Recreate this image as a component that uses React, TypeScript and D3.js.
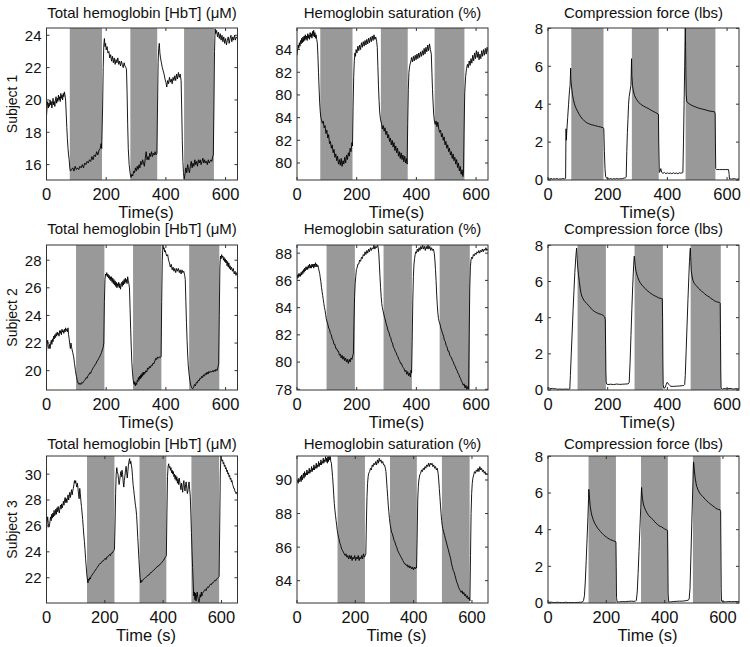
import React from "react";
import * as d3 from "d3";

// ---------- data ----------
const TITLES = ["Total hemoglobin [HbT] (\u03bcM)", "Hemoglobin saturation (%)", "Compression force (lbs)"];
const SUBJECTS = ["Subject 1", "Subject 2", "Subject 3"];
const XLABELS = ["Time(s)", "Time(s)", "Time (s)"];
const X_TICKS = [0, 200, 400, 600];
const X_MAX = [640, 640, 655];

const BANDS_S1 = [[78, 186], [281, 371], [461, 561]];
const BANDS_S2 = [[99, 194], [290, 385], [478, 579]];
const BANDS_S3 = [[139, 233], [319, 411], [497, 592]];

const HBT_TICKS_S1 = [16, 18, 20, 22, 24];
const SO2_TICKS_S1 = [80, 82, 84, 86, 88, 90];
const SO2_LABELS_S1 = ["80", "82", "84", "80", "82", "84"];
const HBT_TICKS_S2 = [20, 22, 24, 26, 28];
const SO2_TICKS_S2 = [78, 80, 82, 84, 86, 88];
const HBT_TICKS_S3 = [22, 24, 26, 28, 30];
const SO2_TICKS_S3 = [84, 86, 88, 90];
const FORCE_TICKS = [0, 2, 4, 6, 8];

const s1HbT = [[0,19.0],[2,19.6],[4,19.9],[6,19.5],[8,19.8],[10,19.6],[12,20.0],[14,19.7],[16,19.9],[18,19.5],[20,19.8],[22,20.1],[24,19.7],[26,19.9],[28,19.6],[30,20.0],[32,20.2],[34,19.8],[36,20.1],[38,19.9],[40,20.3],[42,20.0],[44,20.2],[46,19.9],[48,20.4],[50,20.1],[52,20.3],[54,20.0],[56,20.4],[58,20.2],[60,20.5],[62,20.3],[64,20.0],
[66,19.2],[68,18.3],[70,17.6],[72,17.0],[74,16.6],[76,16.3],[78,15.8],[80,15.6],
[84,15.7],[88,15.8],[92,15.6],[96,15.9],[100,15.7],[104,15.8],[108,15.7],[112,15.9],[116,15.8],[120,16.0],[124,15.8],[128,16.1],[132,16.0],[136,16.2],[140,16.1],[144,16.3],[148,16.2],[152,16.5],[156,16.3],[160,16.6],[164,16.5],[168,16.8],[172,16.6],[176,16.9],[180,17.0],[183,17.3],[185,17.0],
[188,19.5],[190,22.0],[192,23.4],[194,23.8],[196,23.3],[198,23.5],[200,23.1],[203,23.3],[206,22.9],[209,23.0],[212,22.6],[215,22.8],[218,22.4],[221,22.7],[224,22.3],[227,22.6],[230,22.2],[233,22.5],[236,22.3],[239,22.6],[242,22.2],[245,22.4],[248,22.1],[251,22.4],[254,22.2],[257,22.0],[260,22.3],[263,22.1],[266,22.0],[268,21.9],
[270,20.5],[272,18.5],[274,17.0],[277,16.0],[280,15.5],[283,15.2],
[286,15.4],[289,15.3],[292,15.6],[295,15.5],[298,15.8],[301,15.6],[304,15.9],[307,15.7],[310,16.0],[313,15.8],[316,16.2],[319,16.0],[322,16.3],[325,16.1],[328,15.9],[331,16.4],[334,16.8],[337,16.3],[340,16.5],[343,16.3],[346,16.7],[349,16.5],[352,16.8],[355,16.5],[358,16.7],[361,16.6],[364,16.8],[367,16.6],[370,16.7],
[372,19.5],[374,22.3],[376,23.2],[378,23.5],[380,22.9],[382,22.6],[385,22.3],[388,22.0],[391,21.8],[394,21.6],[397,21.3],[400,21.1],[403,20.8],[406,21.2],[409,21.0],[412,21.4],[415,21.1],[418,21.3],[421,21.0],[424,21.4],[427,21.2],[430,21.5],[433,21.2],[436,21.6],[439,21.3],[442,21.7],[445,21.4],[448,21.6],[451,21.2],
[453,19.5],[455,17.5],[457,16.2],[459,15.5],[461,15.1],
[464,15.4],[467,15.8],[470,15.5],[473,16.0],[476,15.7],[479,15.5],[482,15.9],[485,16.2],[488,15.8],[491,16.1],[494,15.9],[497,16.3],[500,16.0],[503,16.2],[506,15.9],[509,16.3],[512,16.1],[515,16.3],[518,16.0],[521,16.2],[524,16.4],[527,16.1],[530,16.3],[533,16.1],[536,16.2],[539,16.0],[542,16.3],[545,16.1],[548,16.2],[551,16.3],[554,16.2],[557,16.5],[559,16.6],
[561,19.5],[563,23.0],[565,24.4],[567,24.1],[570,24.3],[573,23.9],[576,24.2],[579,23.8],[582,24.1],[585,23.7],[588,24.0],[591,23.6],[594,23.9],[597,23.5],[600,23.8],[603,23.4],[606,23.7],[609,23.9],[612,23.5],[615,23.8],[618,24.0],[621,23.6],[624,23.9],[627,23.7],[630,24.0],[633,23.7],[636,23.9],[640,23.8]];

const s1SO2 = [[0,89.5],[2,90.0],[4,90.4],[6,90.1],[8,90.6],[10,90.3],[12,90.8],[14,90.5],[16,91.0],[18,90.6],[20,91.1],[22,90.7],[24,91.2],[26,90.8],[28,91.3],[30,90.9],[32,91.2],[34,90.8],[36,91.4],[38,91.0],[40,91.3],[42,90.9],[44,91.5],[46,91.1],[48,91.4],[50,91.0],[52,91.6],[54,91.2],[56,91.7],[58,91.1],[60,91.5],[62,91.0],[64,91.3],[66,90.9],[68,90.6],
[70,89.5],[72,88.0],[74,86.6],[76,85.3],[78,84.5],[80,84.0],[82,83.8],
[85,83.5],[88,83.7],[91,83.1],[94,83.3],[97,82.6],[100,82.9],[103,82.2],[106,82.5],[109,81.7],[112,81.9],[115,81.3],[118,81.6],[121,80.9],[124,81.2],[127,80.5],[130,80.8],[133,80.2],[136,80.6],[139,79.9],[142,80.3],[145,79.8],[148,80.4],[151,79.7],[154,80.2],[157,79.9],[160,80.5],[163,80.0],[166,80.7],[169,80.3],[172,80.9],[175,80.6],[178,81.3],[181,81.0],[184,81.8],[186,81.5],
[188,85.0],[190,87.6],[192,89.0],[194,89.7],[196,89.4],[198,90.0],[201,89.7],[204,90.3],[207,89.9],[210,90.4],[213,90.0],[216,90.6],[219,90.2],[222,90.7],[225,90.3],[228,90.8],[231,90.4],[234,90.9],[237,90.5],[240,91.0],[243,90.6],[246,91.1],[249,90.7],[252,91.2],[255,90.8],[258,91.3],[261,90.9],[264,91.1],[267,90.7],[269,90.2],
[271,88.5],[273,86.8],[275,85.5],[277,84.5],[280,83.8],[283,83.5],
[286,83.0],[289,83.3],[292,82.8],[295,83.1],[298,82.5],[301,82.8],[304,82.2],[307,82.5],[310,81.9],[313,82.2],[316,81.6],[319,82.0],[322,81.4],[325,81.8],[328,81.1],[331,81.5],[334,80.9],[337,81.3],[340,80.6],[343,81.0],[346,80.4],[349,80.9],[352,80.3],[355,80.7],[358,80.1],[361,80.6],[364,80.0],[367,80.4],[369,79.9],
[371,83.5],[373,86.5],[375,88.0],[378,88.6],[381,88.9],[384,89.3],[387,88.9],[390,89.4],[393,89.0],[396,89.5],[399,89.1],[402,89.6],[405,89.2],[408,89.7],[411,89.3],[414,89.8],[417,89.4],[420,89.9],[423,89.5],[426,90.1],[429,89.6],[432,90.2],[435,89.8],[438,90.4],[441,89.9],[444,90.5],[447,90.0],[450,89.6],
[452,88.0],[454,86.5],[456,85.3],[458,84.3],[460,83.8],[463,83.4],[466,83.7],[469,83.2],[472,83.6],[475,83.0],
[478,82.7],[481,82.9],[484,82.3],[487,82.6],[490,82.0],[493,82.3],[496,81.6],[499,81.9],[502,81.3],[505,81.6],[508,81.0],[511,81.3],[514,80.7],[517,81.0],[520,80.4],[523,80.8],[526,80.2],[529,80.5],[532,79.9],[535,80.3],[538,79.6],[541,80.0],[544,79.3],[547,79.7],[550,79.0],[553,79.4],[556,78.8],[558,79.2],
[560,83.0],[562,86.2],[565,87.6],[568,88.3],[571,88.7],[574,88.4],[577,89.0],[580,88.6],[583,89.2],[586,88.8],[589,89.5],[592,89.0],[595,89.7],[598,89.2],[601,89.9],[604,89.3],[607,89.8],[610,89.1],[613,89.6],[616,89.2],[619,89.9],[622,89.4],[625,90.0],[628,89.5],[631,90.1],[634,89.6],[637,90.2],[640,89.8]];

const s1Force = [[0,0.1],[5,0.05],[10,0.08],[15,0.04],[20,0.07],[25,0.05],[30,0.08],[35,0.04],[40,0.06],[45,0.05],[50,0.08],[55,0.05],[58,0.07],[59,0.1],[60,2.0],[60.5,2.7],[61.5,2.1],[63,2.6],[66,3.3],[69,4.0],[72,4.7],[74,5.0],[76,5.9],[77,5.3],[79,4.9],[82,4.5],[85,4.25],[88,4.05],[91,3.9],[95,3.75],[100,3.6],[105,3.45],[110,3.33],[115,3.22],[120,3.15],[125,3.08],[130,3.02],[135,2.98],[140,2.95],[145,2.92],[150,2.9],[155,2.88],[160,2.86],[165,2.84],[170,2.82],[175,2.8],[180,2.78],[185,2.76],[187,2.7],[189,1.5],[191,0.6],[193,0.2],[196,0.1],[200,0.08],[205,0.05],[210,0.08],[215,0.04],[220,0.07],[225,0.05],[230,0.08],[235,0.05],[240,0.07],[245,0.06],[250,0.08],[255,0.1],[260,0.12],[262,0.15],[264,1.5],[266,2.5],[268,3.2],[270,4.0],[272,4.4],[275,4.7],[278,5.0],[280,6.4],[281,5.5],[283,5.0],[286,4.7],[290,4.45],[295,4.3],[300,4.18],[305,4.08],[310,4.0],[315,3.95],[320,3.9],[325,3.86],[330,3.82],[335,3.78],[340,3.73],[345,3.69],[350,3.64],[355,3.6],[360,3.56],[365,3.52],[370,3.47],[371,2.0],[373,0.4],[375,0.45],[378,0.6],[381,0.4],[385,0.35],[390,0.4],[395,0.33],[400,0.38],[405,0.34],[410,0.37],[415,0.33],[420,0.38],[425,0.34],[430,0.37],[435,0.33],[440,0.38],[445,0.36],[450,0.38],[452,0.4],[454,2.0],[456,4.0],[458,6.0],[460,8.2],[461,7.0],[462,5.5],[463,4.5],[465,4.15],[470,4.05],[475,4.0],[480,3.95],[490,3.88],[500,3.82],[510,3.77],[520,3.73],[530,3.69],[540,3.64],[550,3.62],[558,3.6],[560,3.5],[561,2.0],[562,0.6],[565,0.55],[575,0.55],[585,0.55],[595,0.55],[605,0.55],[607,0.3],[608,0.06],[615,0.05],[625,0.07],[632,0.04],[640,0.06]];

const s2HbT = [[0,21.4],[2,21.9],[4,22.2],[6,21.7],[8,21.6],[10,21.9],[12,21.6],[14,22.0],[16,22.2],[18,21.9],[20,22.3],[22,22.1],[24,22.5],[26,22.3],[28,22.6],[30,22.4],[32,22.7],[34,22.5],[36,22.8],[38,22.6],[40,22.7],[42,22.5],[44,22.9],[46,22.7],[48,22.9],[50,22.6],[52,23.0],[54,22.8],[56,22.9],[58,22.7],[60,23.0],[62,22.8],[64,23.1],[66,22.9],[68,23.0],[70,22.8],[72,23.1],[74,22.6],[76,22.3],[78,21.9],[80,21.6],[82,22.0],[84,21.7],[86,21.5],[88,21.3],
[91,21.0],[94,20.5],[97,20.0],[100,19.6],[103,19.3],[106,19.1],[109,19.0],[112,19.1],[115,19.0],[118,19.15],[121,19.1],[124,19.2],[127,19.3],[130,19.35],[133,19.5],[136,19.45],[139,19.65],[142,19.7],[145,19.85],[148,19.8],[151,20.0],[154,20.1],[157,20.25],[160,20.3],[163,20.45],[166,20.5],[169,20.7],[172,20.75],[175,20.9],[178,21.0],[181,21.15],[184,21.3],[187,21.5],[190,21.7],[192,22.0],
[194,25.0],[196,26.6],[198,27.0],[200,26.9],[202,27.1],[204,26.8],[206,27.0],[208,26.7],[210,26.9],[212,26.6],[214,26.8],[216,26.5],[218,26.8],[220,26.4],[222,26.7],[224,26.3],[226,26.6],[228,26.2],[230,26.5],[232,26.1],[234,26.4],[236,26.0],[238,26.3],[240,26.1],[242,26.4],[244,26.0],[246,26.3],[248,25.9],[250,26.2],[252,26.4],[254,26.1],[256,26.5],[258,26.2],[260,26.6],[262,26.3],[264,26.7],[266,26.4],[268,26.6],[270,26.3],[272,26.8],[274,26.5],[276,26.3],[278,26.0],
[280,24.5],[282,23.0],[284,21.7],[286,20.6],[288,19.9],[290,19.4],[292,19.1],[294,19.0],[296,19.2],[298,18.9],[300,19.1],[302,19.0],[304,19.3],[306,19.2],[308,19.5],[310,19.3],[312,19.6],[314,19.4],[316,19.7],[318,19.5],[320,19.8],[322,19.6],[324,19.9],[326,19.7],[328,19.9],[330,19.8],[333,20.0],[336,19.9],[339,20.2],[342,20.1],[345,20.3],[348,20.2],[351,20.4],[354,20.35],[357,20.55],[360,20.5],[363,20.7],[366,20.9],[369,20.8],[372,21.0],[375,20.9],[378,21.0],[381,20.95],[384,21.0],
[386,25.0],[388,28.0],[390,29.1],[392,28.8],[394,28.9],[396,28.6],[398,28.7],[400,28.5],[403,28.3],[406,28.4],[409,28.0],[412,27.8],[415,27.5],[418,27.7],[421,27.3],[424,27.5],[427,27.2],[430,27.4],[433,27.1],[436,27.4],[439,27.2],[442,27.4],[445,27.1],[448,27.3],[451,27.0],[454,27.3],[457,27.1],[460,27.2],[463,26.9],[465,26.6],
[467,25.0],[469,23.5],[471,22.2],[473,21.2],[475,20.4],[478,19.7],[481,19.2],[484,18.9],[487,18.75],[490,18.7],[493,18.8],[496,19.0],[499,18.9],[502,19.15],[505,19.1],[508,19.3],[511,19.25],[514,19.45],[517,19.4],[520,19.6],[523,19.5],[526,19.7],[529,19.6],[532,19.8],[535,19.7],[538,19.9],[541,19.75],[544,19.95],[547,19.85],[550,19.95],[553,19.9],[556,20.0],[559,19.9],[562,20.05],[565,19.95],[568,20.1],[571,20.0],[574,20.2],[577,20.5],
[579,24.0],[581,27.5],[583,28.3],[585,28.1],[587,28.4],[589,28.2],[591,28.3],[593,28.0],[595,28.2],[597,27.9],[599,28.1],[601,27.8],[603,28.0],[605,27.6],[607,27.9],[609,27.5],[611,27.8],[613,27.4],[615,27.6],[617,27.3],[620,27.5],[623,27.2],[626,27.4],[629,27.0],[632,27.2],[635,26.9],[638,27.1],[640,27.0]];

const s2SO2 = [[0,86.1],[2,86.4],[4,86.2],[6,86.5],[8,86.3],[10,86.5],[12,86.3],[14,86.6],[16,86.4],[18,86.7],[20,86.5],[22,86.8],[24,86.6],[26,86.9],[28,86.7],[30,87.0],[32,86.8],[34,87.0],[36,86.8],[38,87.1],[40,86.9],[42,87.2],[44,86.9],[46,87.1],[48,86.9],[50,87.2],[52,87.0],[54,87.2],[56,86.9],[58,87.2],[60,87.0],[62,87.3],[64,87.0],[66,87.2],[68,87.0],[70,87.1],[72,86.9],[74,86.7],[76,86.5],[78,86.2],[80,85.9],[82,85.5],[84,85.2],[86,84.9],[88,84.6],[90,84.3],[92,84.0],[94,83.8],[96,83.5],[98,83.2],[100,83.0],[103,82.8],[106,82.5],[109,82.4],[112,82.1],[115,82.0],[118,81.7],[121,81.6],[124,81.3],[127,81.3],[130,81.0],[133,81.0],[136,80.8],[139,80.8],[142,80.5],[145,80.6],[148,80.3],[151,80.5],[154,80.2],[157,80.4],[160,80.1],[163,80.3],[166,80.0],[169,80.2],[172,79.9],[175,80.2],[178,80.0],[181,80.3],[184,80.2],[187,80.5],[189,80.6],
[191,83.0],[193,84.8],[195,85.8],[197,86.3],[199,86.8],[201,86.9],[204,87.2],[207,87.2],[210,87.5],[213,87.4],[216,87.7],[219,87.6],[222,87.9],[225,87.8],[228,88.1],[231,87.9],[234,88.2],[237,88.0],[240,88.3],[243,88.1],[246,88.4],[249,88.2],[252,88.4],[255,88.3],[258,88.6],[261,88.3],[264,88.5],[267,88.4],[270,88.6],[272,88.4],[274,88.0],[276,87.2],[278,86.3],[280,85.5],[282,84.8],[284,84.3],[286,84.0],[288,83.8],[290,83.6],[293,83.3],[296,83.1],[299,82.8],[302,82.6],[305,82.3],[308,82.2],[311,81.9],[314,81.8],[317,81.5],[320,81.4],[323,81.1],[326,81.0],[329,80.8],[332,80.7],[335,80.5],[338,80.4],[341,80.2],[344,80.1],[347,79.9],[350,79.9],[353,79.7],[356,79.6],[359,79.5],[362,79.3],[365,79.4],[368,79.1],[371,79.3],[374,79.0],[377,79.2],[380,78.9],[382,79.4],[384,79.2],
[386,81.5],[388,84.5],[390,86.3],[392,87.2],[394,87.6],[396,87.9],[398,88.1],[400,88.0],[403,88.3],[406,88.1],[409,88.4],[412,88.2],[415,88.5],[418,88.3],[421,88.6],[424,88.3],[427,88.5],[430,88.2],[433,88.5],[436,88.3],[439,88.6],[442,88.3],[445,88.5],[448,88.2],[451,88.4],[454,88.2],[457,88.3],[460,88.0],[462,87.5],[464,86.8],[466,86.0],[468,85.0],[470,84.2],[472,83.6],[474,83.2],[476,83.0],[479,82.8],[482,82.5],[485,82.3],[488,82.1],[491,81.9],[494,81.6],[497,81.5],[500,81.2],[503,81.1],[506,80.8],[509,80.8],[512,80.5],[515,80.4],[518,80.3],[521,80.1],[524,80.0],[527,79.8],[530,79.7],[533,79.5],[536,79.4],[539,79.2],[542,79.1],[545,78.9],[548,78.8],[551,78.6],[554,78.5],[557,78.3],[560,78.4],[563,78.1],[566,78.3],[569,78.0],[572,78.2],[575,78.0],
[577,82.0],[579,85.5],[581,87.0],[583,87.5],[585,87.7],[588,87.6],[591,87.9],[594,87.8],[597,88.0],[600,87.9],[603,88.1],[606,88.0],[609,88.2],[612,88.0],[615,88.2],[618,88.1],[621,88.3],[624,88.1],[627,88.3],[630,88.2],[633,88.4],[636,88.2],[640,88.3]];

const s2Force = [[0,0.13],[5,0.1],[10,0.07],[15,0.09],[20,0.06],[25,0.08],[30,0.04],[40,0.05],[50,0.04],[60,0.05],[70,0.04],[73,0.06],[75,0.8],[78,2.0],[81,3.2],[84,4.4],[87,5.5],[90,6.5],[93,7.3],[95,7.7],[96,7.85],[97,7.6],[98,7.2],[100,6.7],[102,6.4],[105,6.0],[108,5.6],[110,5.4],[113,5.2],[116,5.1],[120,4.97],[125,4.87],[130,4.78],[135,4.69],[140,4.6],[145,4.5],[150,4.41],[155,4.35],[160,4.3],[165,4.26],[170,4.22],[175,4.2],[180,4.17],[185,4.12],[190,4.04],[192,3.9],[193,2.5],[194,1.0],[195,0.45],[197,0.32],[200,0.3],[210,0.32],[220,0.3],[230,0.33],[240,0.31],[250,0.32],[260,0.33],[268,0.34],[272,0.4],[275,1.5],[278,3.0],[281,4.5],[284,5.8],[287,6.9],[289,7.4],[290,7.3],[292,6.9],[295,6.55],[300,6.27],[305,6.05],[310,5.9],[315,5.8],[320,5.71],[325,5.62],[330,5.53],[335,5.46],[340,5.4],[345,5.34],[350,5.28],[355,5.23],[360,5.19],[365,5.15],[370,5.1],[375,5.08],[380,5.06],[383,5.05],[384,4.0],[385,1.5],[386,0.3],[388,0.1],[392,0.12],[396,0.3],[399,0.42],[402,0.38],[405,0.3],[408,0.25],[412,0.2],[420,0.2],[430,0.21],[440,0.22],[450,0.24],[455,0.25],[458,0.3],[460,0.8],[463,2.2],[466,3.6],[469,5.0],[472,6.3],[474,7.1],[476,7.7],[477,7.85],[478,7.4],[480,6.6],[483,6.25],[486,6.05],[490,5.9],[495,5.8],[500,5.71],[505,5.62],[510,5.53],[515,5.46],[520,5.4],[525,5.32],[530,5.25],[535,5.2],[540,5.15],[545,5.08],[550,5.02],[555,4.97],[560,4.91],[565,4.88],[570,4.86],[575,4.84],[577,4.8],[578,3.0],[579,1.0],[580,0.1],[585,0.05],[590,0.08],[600,0.06],[610,0.09],[620,0.05],[630,0.07],[640,0.06]];

const s3HbT = [[0,25.7],[2,26.3],[4,26.7],[6,26.2],[8,25.9],[10,26.0],[12,26.4],[14,26.7],[16,26.4],[18,26.9],[20,26.6],[22,27.0],[24,26.7],[26,27.2],[28,26.8],[30,26.9],[32,27.3],[34,26.9],[36,27.4],[38,27.1],[40,27.5],[42,27.2],[44,27.0],[46,27.4],[48,27.6],[50,27.3],[52,27.7],[54,27.4],[56,27.6],[58,27.9],[60,27.6],[62,28.0],[64,28.2],[66,27.8],[68,28.1],[70,27.8],[72,28.2],[74,28.4],[76,28.0],[78,28.3],[80,28.6],[82,28.2],[84,28.5],[86,28.8],[88,28.4],[90,28.7],[92,28.9],[94,29.2],[96,29.5],[98,29.3],[100,29.5],[102,29.2],[104,29.0],[106,29.3],[108,28.9],[110,28.4],[112,28.1],[114,28.9],[116,28.5],[118,27.9],[120,27.5],[122,27.0],[124,26.5],[126,25.9],[128,25.3],[130,24.8],[132,24.2],[134,23.5],[136,22.9],[138,22.3],[140,21.9],[142,21.6],[144,21.9],[146,21.8],[148,22.0],[150,21.9],[153,22.1],[156,22.2],[159,22.3],[162,22.4],[165,22.5],[168,22.6],[171,22.7],[174,22.8],[177,22.9],[180,23.0],[183,23.1],[186,23.1],[189,23.2],[192,23.3],[195,23.3],[198,23.4],[201,23.5],[204,23.4],[207,23.6],[210,23.6],[213,23.7],[216,23.8],[219,23.7],[222,23.9],[225,23.9],[228,24.0],[231,24.1],[233,24.2],
[235,26.0],[237,28.5],[239,30.0],[241,30.5],[243,30.2],[245,30.0],[247,29.6],[249,29.2],[251,29.5],[253,29.9],[255,30.2],[257,29.8],[259,30.3],[261,30.0],[263,29.4],[265,29.0],[267,29.5],[269,29.9],[271,30.3],[273,30.6],[275,30.1],[277,29.7],[279,30.2],[281,30.7],[283,31.0],[285,31.2],[287,30.8],[289,31.0],[291,30.7],[293,30.4],[295,29.8],[297,29.2],[299,28.8],[301,28.4],[303,28.0],[305,27.6],[307,27.3],[309,26.8],[311,26.0],[313,25.1],[315,24.3],[317,23.4],[319,22.6],[321,22.0],[323,21.6],[325,21.8],[327,21.7],[330,21.8],[333,21.9],[336,21.95],[339,22.0],[342,22.05],[345,22.1],[348,22.2],[351,22.2],[354,22.3],[357,22.4],[360,22.4],[363,22.5],[366,22.55],[369,22.6],[372,22.7],[375,22.75],[378,22.8],[381,22.9],[384,22.9],[387,23.0],[390,23.05],[393,23.1],[396,23.2],[399,23.3],[402,23.35],[405,23.5],[408,23.6],[411,23.7],
[413,27.0],[415,29.8],[417,30.6],[419,30.8],[421,30.5],[423,30.6],[425,30.3],[427,30.5],[429,30.1],[431,30.3],[433,30.0],[435,30.2],[437,29.8],[439,30.0],[441,29.6],[443,29.9],[445,29.5],[447,29.8],[449,29.3],[451,29.6],[453,29.2],[455,29.7],[457,29.4],[459,29.1],[461,28.8],[463,29.3],[465,29.0],[467,28.6],[469,29.2],[471,29.5],[473,29.0],[475,28.7],[477,29.2],[479,29.4],[481,28.9],[483,28.5],[485,28.7],[487,29.2],[489,29.4],[491,28.8],[493,28.3],[495,27.0],[497,25.5],[499,24.0],[501,22.8],[503,21.6],[505,20.6],[507,20.9],[509,20.3],[511,20.8],[513,20.2],[515,20.7],[517,20.9],[519,20.5],[521,20.3],[523,20.1],[525,20.4],[527,20.7],[529,20.5],[531,20.9],[533,20.6],[535,20.8],[538,20.9],[541,21.0],[544,21.1],[547,21.0],[550,21.2],[553,21.3],[556,21.25],[559,21.4],[562,21.5],[565,21.45],[568,21.6],[571,21.6],[574,21.7],[577,21.8],[580,21.75],[583,21.9],[586,21.95],[589,22.0],[592,22.1],
[594,26.0],[596,30.0],[598,31.4],[600,31.2],[602,31.0],[604,31.1],[606,30.8],[608,30.9],[610,30.6],[612,30.7],[614,30.4],[616,30.5],[618,30.2],[620,30.3],[622,30.0],[624,30.1],[626,29.8],[628,29.9],[630,29.6],[632,29.7],[634,29.4],[636,29.5],[638,29.2],[640,29.1],[642,28.9],[644,28.9],[646,28.7],[648,28.6],[650,28.5],[652,28.6],[655,28.4]];

const s3SO2 = [[0,89.9],[2,90.0],[4,89.8],[6,90.1],[8,89.9],[10,90.0],[12,90.2],[14,89.9],[16,90.3],[18,90.0],[20,90.2],[22,90.4],[24,90.1],[26,90.5],[28,90.2],[30,90.4],[32,90.3],[34,90.6],[36,90.3],[38,90.5],[40,90.4],[42,90.7],[44,90.4],[46,90.6],[48,90.5],[50,90.8],[52,90.5],[54,90.7],[56,90.6],[58,90.9],[60,90.6],[62,90.8],[64,90.7],[66,91.0],[68,90.7],[70,90.9],[72,90.8],[74,91.1],[76,90.8],[78,91.0],[80,90.9],[82,91.2],[84,90.9],[86,91.1],[88,91.0],[90,91.3],[92,91.0],[94,91.2],[96,91.1],[98,91.4],[100,91.1],[102,91.3],[104,91.0],[106,91.4],[108,91.1],[110,91.4],[112,91.2],[114,91.4],[116,91.1],[118,91.0],[120,90.6],[122,90.2],[124,89.7],[126,89.1],[128,88.6],[130,88.2],[132,87.9],[134,87.6],[136,87.3],[138,87.0],[140,86.8],[142,86.6],[144,86.5],[146,86.3],[148,86.2],[150,86.1],[153,85.9],[156,85.8],[159,85.7],[162,85.6],[165,85.5],[168,85.6],[171,85.4],[174,85.5],[177,85.3],[180,85.5],[183,85.3],[186,85.5],[189,85.2],[192,85.4],[195,85.3],[198,85.5],[201,85.2],[204,85.4],[207,85.3],[210,85.5],[213,85.2],[216,85.4],[219,85.3],[222,85.5],[225,85.3],[228,85.6],[231,85.4],[234,85.5],[236,85.6],
[238,87.5],[240,89.0],[242,89.8],[244,90.2],[246,90.4],[249,90.5],[252,90.7],[255,90.6],[258,90.9],[261,90.8],[264,91.0],[267,90.9],[270,91.1],[273,90.9],[276,91.2],[279,91.0],[282,91.3],[285,91.1],[288,91.2],[291,91.0],[294,91.1],[297,90.9],[300,90.9],[303,90.7],[305,90.5],[307,90.0],[309,89.5],[311,89.0],[313,88.5],[315,88.1],[317,87.7],[319,87.4],[321,87.2],[324,86.9],[327,86.8],[330,86.6],[333,86.4],[336,86.3],[339,86.1],[342,86.0],[345,85.8],[348,85.7],[351,85.6],[354,85.5],[357,85.4],[360,85.3],[363,85.2],[366,85.1],[369,85.0],[372,85.0],[375,84.9],[378,84.95],[381,84.8],[384,84.9],[387,84.75],[390,84.85],[393,84.7],[396,84.8],[399,84.65],[402,84.8],[405,84.7],[408,84.8],[410,84.75],
[412,86.5],[414,88.8],[416,89.6],[418,90.0],[421,90.3],[424,90.4],[427,90.6],[430,90.5],[433,90.7],[436,90.6],[439,90.8],[442,90.7],[445,90.9],[448,90.8],[451,91.0],[454,90.8],[457,91.0],[460,90.9],[463,91.0],[466,90.8],[469,90.9],[472,90.7],[475,90.8],[478,90.6],[481,90.7],[484,90.4],[486,90.0],[488,89.5],[490,89.0],[492,88.5],[494,88.0],[496,87.6],[498,87.3],[500,87.1],[503,86.9],[506,86.7],[509,86.5],[512,86.3],[515,86.1],[518,85.9],[521,85.7],[524,85.5],[527,85.3],[530,85.0],[533,84.8],[536,84.6],[539,84.5],[542,84.3],[545,84.1],[548,83.9],[551,83.8],[554,83.6],[557,83.5],[560,83.4],[563,83.3],[566,83.4],[569,83.2],[572,83.3],[575,83.1],[578,83.2],[581,83.0],[584,83.1],[587,82.9],[590,83.0],[593,82.8],
[595,85.5],[597,88.0],[599,89.2],[601,89.8],[603,90.1],[606,90.3],[609,90.5],[612,90.4],[615,90.6],[618,90.5],[621,90.7],[624,90.5],[627,90.8],[630,90.6],[633,90.7],[636,90.5],[639,90.6],[642,90.4],[645,90.5],[648,90.3],[651,90.4],[655,90.3]];

const s3Force = [[0,0.03],[10,0.05],[20,0.02],[30,0.04],[40,0.03],[50,0.02],[60,0.04],[70,0.02],[80,0.03],[90,0.02],[100,0.03],[110,0.04],[118,0.05],[122,0.15],[125,0.4],[128,1.2],[131,2.3],[134,3.5],[137,4.7],[139,5.7],[140,6.2],[141,6.0],[143,5.6],[145,5.25],[148,4.95],[150,4.8],[155,4.55],[160,4.36],[165,4.22],[170,4.09],[175,3.99],[180,3.9],[185,3.81],[190,3.73],[195,3.66],[200,3.6],[205,3.54],[210,3.49],[215,3.45],[220,3.42],[225,3.39],[230,3.36],[233,3.34],[234,2.0],[235,0.3],[237,0.05],[245,0.06],[255,0.08],[265,0.07],[275,0.09],[285,0.1],[295,0.09],[300,0.1],[303,0.15],[306,0.6],[309,1.6],[312,2.8],[315,4.0],[318,5.2],[320,6.0],[321,6.3],[322,6.0],[324,5.7],[327,5.4],[330,5.25],[335,5.05],[340,4.9],[345,4.78],[350,4.69],[355,4.62],[360,4.55],[365,4.45],[370,4.36],[375,4.29],[380,4.22],[385,4.18],[390,4.15],[395,4.09],[400,4.04],[405,4.0],[410,3.96],[411,2.5],[412,0.5],[414,0.05],[420,0.06],[430,0.08],[440,0.09],[450,0.1],[460,0.1],[470,0.12],[480,0.15],[484,0.2],[487,0.8],[490,2.5],[493,4.3],[496,6.0],[498,7.2],[499,7.7],[500,7.6],[502,7.2],[505,6.8],[508,6.5],[510,6.36],[515,6.15],[520,6.0],[525,5.9],[530,5.82],[535,5.73],[540,5.64],[545,5.56],[550,5.49],[555,5.42],[560,5.36],[565,5.3],[570,5.24],[575,5.18],[580,5.13],[585,5.1],[590,5.09],[592,5.0],[593,3.0],[594,0.8],[595,0.1],[600,0.07],[610,0.06],[620,0.08],[630,0.07],[640,0.08],[655,0.07]];

// ---------- layout ----------
const W = 750;
const H = 647;
const COL_X = [46.5, 297, 548];
const PLOT_W = 191;
const ROWS = [
  { top: 28, bottom: 180, titleY: 18.3 },
  { top: 245, bottom: 390, titleY: 234 },
  { top: 456, bottom: 603, titleY: 448.5 },
];
const FONT = "'Liberation Sans', Arial, Helvetica, sans-serif";
const BAND_COLOR = "#999999";
const AXIS_COLOR = "#333333";

type PanelCfg = {
  row: number;
  col: number;
  yDomain: [number, number];
  yTicks: number[];
  yLabels?: string[];
  bands: number[][];
  data: number[][];
};

const PANELS: PanelCfg[] = [
  { row: 0, col: 0, yDomain: [15.05, 24.45], yTicks: HBT_TICKS_S1, bands: BANDS_S1, data: s1HbT },
  { row: 0, col: 1, yDomain: [78.5, 91.9], yTicks: SO2_TICKS_S1, yLabels: SO2_LABELS_S1, bands: BANDS_S1, data: s1SO2 },
  { row: 0, col: 2, yDomain: [0, 8.02], yTicks: FORCE_TICKS, bands: BANDS_S1, data: s1Force },
  { row: 1, col: 0, yDomain: [18.6, 29.1], yTicks: HBT_TICKS_S2, bands: BANDS_S2, data: s2HbT },
  { row: 1, col: 1, yDomain: [77.95, 88.6], yTicks: SO2_TICKS_S2, bands: BANDS_S2, data: s2SO2 },
  { row: 1, col: 2, yDomain: [0, 8.02], yTicks: FORCE_TICKS, bands: BANDS_S2, data: s2Force },
  { row: 2, col: 0, yDomain: [20.05, 31.4], yTicks: HBT_TICKS_S3, bands: BANDS_S3, data: s3HbT },
  { row: 2, col: 1, yDomain: [82.67, 91.43], yTicks: SO2_TICKS_S3, bands: BANDS_S3, data: s3SO2 },
  { row: 2, col: 2, yDomain: [0, 8.02], yTicks: FORCE_TICKS, bands: BANDS_S3, data: s3Force },
];

function Panel({ cfg, idx }: { cfg: PanelCfg; idx: number }) {
  const r = ROWS[cfg.row];
  const x0 = COL_X[cfg.col];
  const x = d3.scaleLinear().domain([0, X_MAX[cfg.row]]).range([x0, x0 + PLOT_W]);
  const y = d3.scaleLinear().domain(cfg.yDomain).range([r.bottom, r.top]);
  const line = d3
    .line<number[]>()
    .x((d) => x(d[0]))
    .y((d) => y(d[1]));
  const clipId = `clip-${idx}`;
  const tl = 3;
  const cx = x0 + PLOT_W / 2;
  return (
    <g>
      <defs>
        <clipPath id={clipId}>
          <rect x={x0} y={r.top} width={PLOT_W} height={r.bottom - r.top} />
        </clipPath>
      </defs>
      <rect x={x0} y={r.top} width={PLOT_W} height={r.bottom - r.top} fill="#fff" />
      {cfg.bands.map((b, i) => (
        <rect
          key={i}
          x={x(b[0])}
          y={r.top}
          width={x(b[1]) - x(b[0])}
          height={r.bottom - r.top}
          fill={BAND_COLOR}
        />
      ))}
      <path
        d={line(cfg.data) || ""}
        fill="none"
        stroke="#000"
        strokeWidth={0.9}
        strokeLinejoin="round"
        clipPath={`url(#${clipId})`}
      />
      <rect
        x={x0}
        y={r.top}
        width={PLOT_W}
        height={r.bottom - r.top}
        fill="none"
        stroke={AXIS_COLOR}
        strokeWidth={1}
      />
      {X_TICKS.map((t) => (
        <g key={`x${t}`}>
          <line x1={x(t)} x2={x(t)} y1={r.bottom} y2={r.bottom - tl} stroke={AXIS_COLOR} />
          <line x1={x(t)} x2={x(t)} y1={r.top} y2={r.top + tl} stroke={AXIS_COLOR} />
          <text
            x={x(t)}
            y={r.bottom + 19.5}
            textAnchor="middle"
            fontFamily={FONT}
            fontSize={16.5}
            fill="#111"
          >
            {t}
          </text>
        </g>
      ))}
      {cfg.yTicks.map((t, i) => (
        <g key={`y${t}`}>
          <line x1={x0} x2={x0 + tl} y1={y(t)} y2={y(t)} stroke={AXIS_COLOR} />
          <line x1={x0 + PLOT_W} x2={x0 + PLOT_W - tl} y1={y(t)} y2={y(t)} stroke={AXIS_COLOR} />
          <text
            x={x0 - 5}
            y={y(t) + 5.4}
            textAnchor="end"
            fontFamily={FONT}
            fontSize={15}
            fill="#111"
          >
            {cfg.yLabels ? cfg.yLabels[i] : t}
          </text>
        </g>
      ))}
      <text
        x={cx + 4}
        y={r.bottom + 38}
        textAnchor="middle"
        fontFamily={FONT}
        fontSize={16.5}
        fill="#111"
      >
        {XLABELS[cfg.row]}
      </text>
    </g>
  );
}

function Titles() {
  return (
    <g>
      {ROWS.map((r, ri) =>
        TITLES.map((t, ci) => {
          const cx = COL_X[ci] + PLOT_W / 2;
          return (
            <text
              key={`${ri}-${ci}`}
              x={cx}
              y={r.titleY}
              textAnchor="middle"
              fontFamily={FONT}
              fontSize={15}
              fill="#111"
            >
              {t}
            </text>
          );
        })
      )}
      {ROWS.map((r, ri) => (
        <text
          key={`s${ri}`}
          transform={`translate(16.5, ${(r.top + r.bottom) / 2}) rotate(-90)`}
          textAnchor="middle"
          fontFamily={FONT}
          fontSize={14}
          fill="#111"
        >
          {SUBJECTS[ri]}
        </text>
      ))}
    </g>
  );
}

export default function App() {
  return (
    <svg
      width={W}
      height={H}
      viewBox={`0 0 ${W} ${H}`}
      style={{ position: "absolute", left: 0, top: 0, background: "#fff" }}
    >
      <rect x={0} y={0} width={W} height={H} fill="#fff" />
      {PANELS.map((p, i) => (
        <Panel key={i} cfg={p} idx={i} />
      ))}
      <Titles />
    </svg>
  );
}
